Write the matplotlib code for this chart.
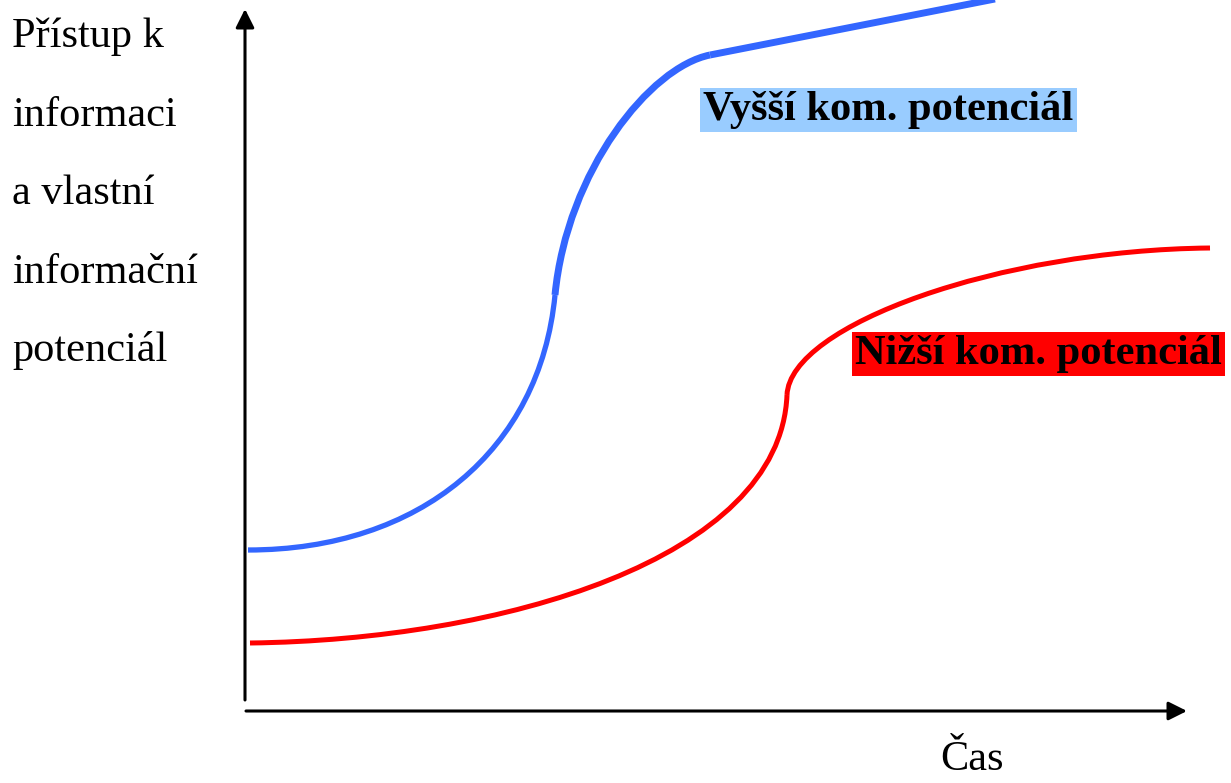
import matplotlib.pyplot as plt
from matplotlib.path import Path
from matplotlib.patches import PathPatch

# control points of the two growth curves (cubic Bezier, origin at axis corner)
blue_lower = [(3, 161), (175, 161), (295, 261), (310, 416)]
blue_upper = [(310, 416), (322, 540), (405, 644), (465, 656)]
blue_line = [(465, 656), (755, 713)]
red_lower = [(5, 68), (255, 71), (535, 151), (542, 316)]
red_upper = [(542, 316), (545, 386), (755, 461), (965, 463)]

ylabel_lines = ['Přístup k', 'informaci', 'a vlastní', 'informační', 'potenciál']
xlabel = 'Čas'
high_label = 'Vyšší kom. potenciál'
low_label = 'Nižší kom. potenciál'

BLUE = '#3366ff'
RED = '#ff0000'

plt.rcParams['font.family'] = ['Liberation Serif', 'DejaVu Serif']

fig = plt.figure(figsize=(12.31, 7.83), dpi=100)
ax = fig.add_axes([0, 0, 1, 1])
ax.set_xlim(-245, 986)
ax.set_ylim(-72, 711)
ax.axis('off')


def bezier(pts, color, lw):
    codes = [Path.MOVETO] + [Path.CURVE4] * (len(pts) - 1)
    patch = PathPatch(Path(pts, codes), facecolor='none', edgecolor=color,
                      lw=lw, capstyle='butt')
    ax.add_patch(patch)


# axes with arrow heads
ax.annotate('', xy=(0, 702), xytext=(0, 11),
            arrowprops=dict(arrowstyle='-|>', lw=2.2, color='black',
                            mutation_scale=28, shrinkA=0, shrinkB=0))
ax.annotate('', xy=(942, 0), xytext=(1, 0),
            arrowprops=dict(arrowstyle='-|>', lw=2.2, color='black',
                            mutation_scale=28, shrinkA=0, shrinkB=0))

bezier(blue_lower, BLUE, 3.8)
bezier(blue_upper, BLUE, 5.0)
bx, by = zip(*blue_line)
ax.plot(bx, by, color=BLUE, lw=5.0, solid_capstyle='butt')

bezier(red_lower, RED, 3.6)
bezier(red_upper, RED, 3.6)

for i, line in enumerate(ylabel_lines):
    fig.text(12, 783 - 37 - i * 78.5, line, fontsize=30.5, va='center',
             ha='left', transform=None)

fig.text(940, 783 - 760, xlabel, fontsize=30.5, va='center', ha='left',
         transform=None)

ax.text(703 - 245, 711 - 110, high_label, fontsize=30.6, fontweight='bold',
        va='center', ha='left',
        bbox=dict(facecolor='#99ccff', edgecolor='none', pad=2.5))
ax.text(855 - 245, 711 - 354, low_label, fontsize=30.6, fontweight='bold',
        va='center', ha='left',
        bbox=dict(facecolor=RED, edgecolor='none', pad=2.5))

fig.savefig('out.png', dpi=100)
